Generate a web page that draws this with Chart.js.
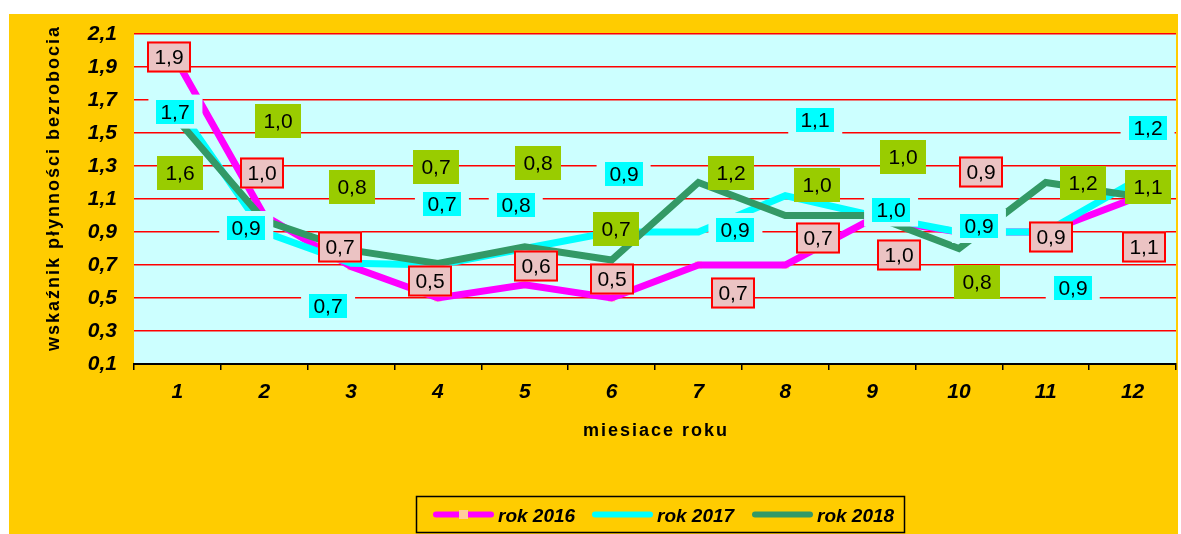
<!DOCTYPE html>
<html>
<head>
<meta charset="utf-8">
<script src="https://cdn.jsdelivr.net/npm/chart.js@4.4.1/dist/chart.umd.min.js"></script>
<style>
  html, body { margin: 0; padding: 0; background: #fff; }
</style>
</head>
<body>
<canvas id="chart" width="1181" height="534"></canvas>
<script>
const months = ["1", "2", "3", "4", "5", "6", "7", "8", "9", "10", "11", "12"];
const rok2016 = [1.93, 1.0, 0.69, 0.5, 0.58, 0.5, 0.7, 0.7, 0.98, 0.9, 0.9, 1.1];
const rok2017 = [1.66, 0.9, 0.71, 0.7, 0.8, 0.9, 0.9, 1.12, 1.0, 0.9, 0.9, 1.2];
const rok2018 = [1.58, 0.97, 0.79, 0.71, 0.81, 0.73, 1.2, 1.0, 1.0, 0.8, 1.2, 1.12];
const seriesNames = ["rok 2016", "rok 2017", "rok 2018"];
const yMin = 0.1, yMax = 2.1, yStep = 0.2;

// where each value box sits, relative to its point (px)
const boxShift2016 = [[-8,-5],[-2,-43],[-11,-20],[-8,-17],[11,-19],[0,-19],[35,28],[33,-27],[27,36],[22,-60],[5,5],[11,48]];
const boxShift2017 = [[-2,5],[-18,-4],[-23,43],[4,-61],[-9,-43],[12,-58],[37,-2],[30,-76],[19,-6],[20,-6],[27,56],[15,-55]];
const boxShift2018 = [[3,53],[14,-99],[1,-63],[-2,-96],[13,-84],[4,-31],[33,-10],[32,-31],[31,-59],[18,33],[37,0],[15,-9]];

const fmt = (v) => v.toFixed(1).replace(".", ",");
const FONT = "Arial, 'Liberation Sans', sans-serif";
const PLOT_BG = "#CCFFFF";

const boxStyles = [
  { ds: 0, shifts: boxShift2016, w: 44, h: 31, fill: "#EBC3C3", border: "#FF0000", halo: 0 },
  { ds: 1, shifts: boxShift2017, w: 38, h: 24, fill: "#00FFFF", border: null, halo: 8 },
  { ds: 2, shifts: boxShift2018, w: 46, h: 34, fill: "#99CC00", border: null, halo: 0 },
];

const backgroundPlugin = {
  id: "background",
  beforeDraw(chart) {
    const ctx = chart.ctx;
    const a = chart.chartArea;
    ctx.save();
    ctx.fillStyle = "#FFFFFF";
    ctx.fillRect(0, 0, chart.width, chart.height);
    ctx.fillStyle = "#FFCC00";
    ctx.fillRect(9, 14, 1169, chart.height - 14);
    ctx.fillStyle = PLOT_BG;
    ctx.fillRect(a.left, a.top, a.right - a.left, a.bottom - a.top);
    ctx.restore();
  },
};

const valueBoxes = {
  id: "valueBoxes",
  afterDatasetsDraw(chart) {
    const ctx = chart.ctx;
    ctx.save();
    // halos first, so they never cut into another box
    boxStyles.forEach((s) => {
      if (!s.halo) return;
      const meta = chart.getDatasetMeta(s.ds);
      meta.data.forEach((pt, i) => {
        const cx = pt.x + s.shifts[i][0];
        const cy = pt.y + s.shifts[i][1];
        ctx.fillStyle = PLOT_BG;
        ctx.fillRect(cx - s.w / 2 - s.halo, cy - s.h / 2 - 5, s.w + 2 * s.halo, s.h + 10);
      });
    });
    boxStyles.forEach((s) => {
      const meta = chart.getDatasetMeta(s.ds);
      const values = chart.data.datasets[s.ds].data;
      meta.data.forEach((pt, i) => {
        const cx = Math.round(pt.x + s.shifts[i][0]);
        const cy = Math.round(pt.y + s.shifts[i][1]);
        const x0 = cx - s.w / 2, y0 = cy - s.h / 2;
        ctx.fillStyle = s.fill;
        ctx.fillRect(x0, y0, s.w, s.h);
        if (s.border) {
          ctx.strokeStyle = s.border;
          ctx.lineWidth = 2;
          ctx.strokeRect(x0 + 1, y0 + 1, s.w - 2, s.h - 2);
        }
        ctx.fillStyle = "#000";
        ctx.font = "21px " + FONT;
        ctx.textAlign = "center";
        ctx.textBaseline = "middle";
        ctx.fillText(fmt(values[i]), cx, cy + 1);
      });
    });
    ctx.restore();
  },
};

const titlesAndLegend = {
  id: "titlesAndLegend",
  afterDraw(chart) {
    const ctx = chart.ctx;
    const a = chart.chartArea;
    ctx.save();
    ctx.fillStyle = "#000";
    ctx.font = "bold 18px " + FONT;
    ctx.letterSpacing = "2px";
    ctx.textAlign = "center";
    ctx.textBaseline = "middle";
    ctx.fillText("miesiace roku", (a.left + a.right) / 2 + 1, 431);

    ctx.save();
    ctx.translate(54, 188);
    ctx.rotate(-Math.PI / 2);
    ctx.fillText("wskaźnik płynności bezrobocia", 0, 0);
    ctx.restore();
    ctx.letterSpacing = "0px";

    // legend frame
    ctx.strokeStyle = "#000";
    ctx.lineWidth = 1.5;
    ctx.strokeRect(416.5, 496.5, 488, 36);
    const items = [
      { x: 436, color: "#FF00FF", marker: true },
      { x: 595, color: "#00FFFF", marker: false },
      { x: 755, color: "#339966", marker: false },
    ];
    items.forEach((it, k) => {
      ctx.strokeStyle = it.color;
      ctx.lineWidth = 6;
      ctx.lineCap = "round";
      ctx.beginPath();
      ctx.moveTo(it.x, 514.5);
      ctx.lineTo(it.x + 55, 514.5);
      ctx.stroke();
      if (it.marker) {
        ctx.fillStyle = "#FFCC99";
        ctx.fillRect(it.x + 23, 510, 9, 9);
      }
      ctx.fillStyle = "#000";
      ctx.font = "italic bold 19px " + FONT;
      ctx.textAlign = "left";
      ctx.fillText(seriesNames[k], it.x + 62, 517);
    });
    ctx.restore();
  },
};

new Chart(document.getElementById("chart"), {
  type: "line",
  data: {
    labels: months,
    datasets: [
      {
        label: seriesNames[0],
        data: rok2016,
        borderColor: "#FF00FF",
        borderWidth: 7,
        pointRadius: 0,
        order: 3,
      },
      {
        label: seriesNames[1],
        data: rok2017,
        borderColor: "#00FFFF",
        borderWidth: 7,
        pointRadius: 0,
        order: 2,
      },
      {
        label: seriesNames[2],
        data: rok2018,
        borderColor: "#339966",
        borderWidth: 7,
        pointRadius: 0,
        order: 1,
      },
      {
        // 2016 markers, sitting under the magenta line
        label: "markers",
        data: rok2016,
        showLine: false,
        pointStyle: "rect",
        pointRadius: 5,
        pointBackgroundColor: "#FFCC99",
        pointBorderWidth: 0,
        order: 4,
      },
    ],
  },
  options: {
    responsive: false,
    animation: false,
    events: [],
    layout: { padding: { top: 34, right: 4, left: 0, bottom: 0 } },
    plugins: {
      legend: { display: false },
      tooltip: { enabled: false },
    },
    scales: {
      x: {
        offset: true,
        afterFit: (scale) => { scale.height = 170; },
        grid: {
          offset: true,
          drawOnChartArea: false,
          drawTicks: true,
          tickLength: 6,
          color: "#000",
          lineWidth: 1.5,
        },
        border: { color: "#000", width: 2 },
        ticks: {
          color: "#000",
          padding: 10,
          maxRotation: 0,
          font: { family: FONT, size: 21, weight: "bold", style: "italic" },
        },
      },
      y: {
        min: yMin,
        max: yMax,
        afterFit: (scale) => { scale.width = 134; },
        grid: { color: "#FF0000", lineWidth: 1.5, drawTicks: false },
        border: { display: false },
        ticks: {
          stepSize: yStep,
          color: "#000",
          padding: 17,
          font: { family: FONT, size: 21, weight: "bold", style: "italic" },
          callback: (v) => fmt(v),
        },
      },
    },
  },
  plugins: [backgroundPlugin, valueBoxes, titlesAndLegend],
});
</script>
</body>
</html>
